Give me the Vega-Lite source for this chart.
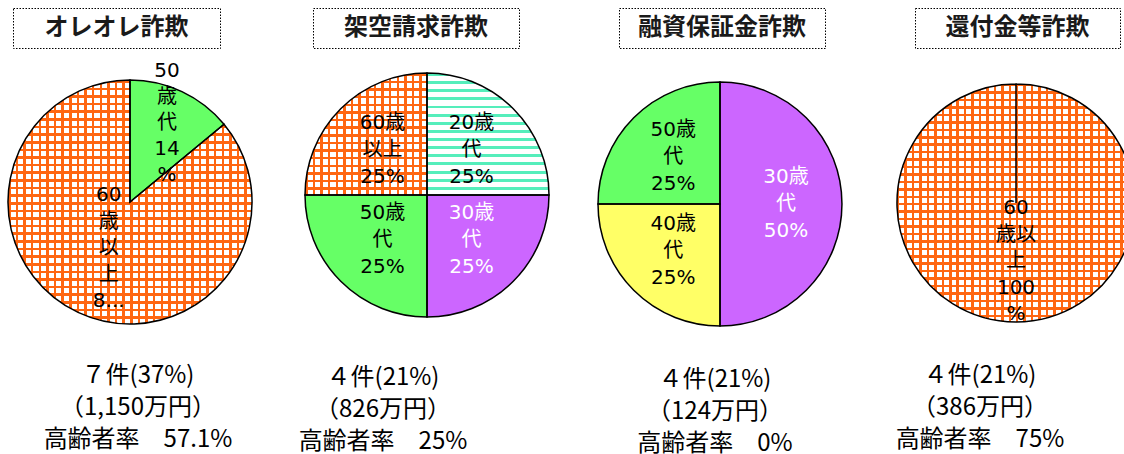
{
"$schema": "https://vega.github.io/schema/vega-lite/v6.json",
"background": "white",
"padding": {"left": 5, "top": 7, "right": 0, "bottom": 0},
"spacing": 12,
"config": {"view": {"stroke": null}},
"datasets": {
 "p1": [
  {"age": "50歳代", "pct": 14, "label": "50\n歳\n代\n14\n%"},
  {"age": "60歳以上", "pct": 86, "label": "60\n歳\n以\n上\n8..."}
 ],
 "p2": [
  {"age": "20歳代", "pct": 25, "label": "20歳\n代\n25%"},
  {"age": "30歳代", "pct": 25, "label": "30歳\n代\n25%"},
  {"age": "50歳代", "pct": 25, "label": "50歳\n代\n25%"},
  {"age": "60歳以上", "pct": 25, "label": "60歳\n以上\n25%"}
 ],
 "p3": [
  {"age": "30歳代", "pct": 50, "label": "30歳\n代\n50%"},
  {"age": "40歳代", "pct": 25, "label": "40歳\n代\n25%"},
  {"age": "50歳代", "pct": 25, "label": "50歳\n代\n25%"}
 ],
 "p4": [
  {"age": "60歳以上", "pct": 100, "label": "60\n歳以\n上\n100\n%"}
 ]
},
"vconcat": [
 {
  "bounds": "flush",
  "spacing": 0,
  "hconcat": [
   {"width": 5, "height": 40, "data": {"values": [{}]}, "mark": {"type": "text", "text": ""}},
   {"width": 207, "height": 40, "data": {"values": [{"title": "オレオレ詐欺"}]},
    "view": {"stroke": "#000", "strokeWidth": 1, "strokeDash": [1.5, 1.5]},
    "mark": {"type": "text", "font": "Noto Sans CJK JP", "fontSize": 24, "fontWeight": "bold", "color": "#1a1a1a"},
    "encoding": {"text": {"field": "title"}}},
   {"width": 93, "height": 40, "data": {"values": [{}]}, "mark": {"type": "text", "text": ""}},
   {"width": 206, "height": 40, "data": {"values": [{"title": "架空請求詐欺"}]},
    "view": {"stroke": "#000", "strokeWidth": 1, "strokeDash": [1.5, 1.5]},
    "mark": {"type": "text", "font": "Noto Sans CJK JP", "fontSize": 24, "fontWeight": "bold", "color": "#1a1a1a"},
    "encoding": {"text": {"field": "title"}}},
   {"width": 100, "height": 40, "data": {"values": [{}]}, "mark": {"type": "text", "text": ""}},
   {"width": 206, "height": 40, "data": {"values": [{"title": "融資保証金詐欺"}]},
    "view": {"stroke": "#000", "strokeWidth": 1, "strokeDash": [1.5, 1.5]},
    "mark": {"type": "text", "font": "Noto Sans CJK JP", "fontSize": 24, "fontWeight": "bold", "color": "#1a1a1a"},
    "encoding": {"text": {"field": "title"}}},
   {"width": 90, "height": 40, "data": {"values": [{}]}, "mark": {"type": "text", "text": ""}},
   {"width": 205, "height": 40, "data": {"values": [{"title": "還付金等詐欺"}]},
    "view": {"stroke": "#000", "strokeWidth": 1, "strokeDash": [1.5, 1.5]},
    "mark": {"type": "text", "font": "Noto Sans CJK JP", "fontSize": 24, "fontWeight": "bold", "color": "#1a1a1a"},
    "encoding": {"text": {"field": "title"}}}
  ]
 },
 {
  "bounds": "flush",
  "spacing": 0,
  "hconcat": [
   {
    "width": 244, "height": 246,
    "data": {"name": "p1"},
    "encoding": {
     "theta": {"field": "pct", "type": "quantitative", "stack": true, "scale": {"range": [0, 6.283]}},
     "order": {"field": "age", "type": "ordinal"},
     "detail": {"field": "age", "type": "nominal"}
    },
    "layer": [
     {"mark": {"type": "arc", "outerRadius": 122},
      "encoding": {"color": {"field": "age", "type": "nominal", "legend": null,
       "scale": {"domain": ["20歳代", "30歳代", "40歳代", "50歳代", "60歳以上"], "range": ["#ffffff", "#cc66ff", "#ffff66", "#66ff66", "#ffffff"]}}}},
     {"mark": {"type": "arc", "outerRadius": 122, "fill": {"gradient": "linear", "x1": 0, "y1": 0, "x2": 1, "y2": 0, "stops": [
{"offset":0,"color":"#f61"},{"offset":0.0103,"color":"#f61"},{"offset":0.0103,"color":"#fff0"},{"offset":0.03125,"color":"#fff0"},
{"offset":0.03125,"color":"#f61"},{"offset":0.04155,"color":"#f61"},{"offset":0.04155,"color":"#fff0"},{"offset":0.0625,"color":"#fff0"},
{"offset":0.0625,"color":"#f61"},{"offset":0.0728,"color":"#f61"},{"offset":0.0728,"color":"#fff0"},{"offset":0.09375,"color":"#fff0"},
{"offset":0.09375,"color":"#f61"},{"offset":0.10405,"color":"#f61"},{"offset":0.10405,"color":"#fff0"},{"offset":0.125,"color":"#fff0"},
{"offset":0.125,"color":"#f61"},{"offset":0.1353,"color":"#f61"},{"offset":0.1353,"color":"#fff0"},{"offset":0.15625,"color":"#fff0"},
{"offset":0.15625,"color":"#f61"},{"offset":0.16655,"color":"#f61"},{"offset":0.16655,"color":"#fff0"},{"offset":0.1875,"color":"#fff0"},
{"offset":0.1875,"color":"#f61"},{"offset":0.1978,"color":"#f61"},{"offset":0.1978,"color":"#fff0"},{"offset":0.21875,"color":"#fff0"},
{"offset":0.21875,"color":"#f61"},{"offset":0.22905,"color":"#f61"},{"offset":0.22905,"color":"#fff0"},{"offset":0.25,"color":"#fff0"},
{"offset":0.25,"color":"#f61"},{"offset":0.2603,"color":"#f61"},{"offset":0.2603,"color":"#fff0"},{"offset":0.28125,"color":"#fff0"},
{"offset":0.28125,"color":"#f61"},{"offset":0.29155,"color":"#f61"},{"offset":0.29155,"color":"#fff0"},{"offset":0.3125,"color":"#fff0"},
{"offset":0.3125,"color":"#f61"},{"offset":0.3228,"color":"#f61"},{"offset":0.3228,"color":"#fff0"},{"offset":0.34375,"color":"#fff0"},
{"offset":0.34375,"color":"#f61"},{"offset":0.35405,"color":"#f61"},{"offset":0.35405,"color":"#fff0"},{"offset":0.375,"color":"#fff0"},
{"offset":0.375,"color":"#f61"},{"offset":0.3853,"color":"#f61"},{"offset":0.3853,"color":"#fff0"},{"offset":0.40625,"color":"#fff0"},
{"offset":0.40625,"color":"#f61"},{"offset":0.41655,"color":"#f61"},{"offset":0.41655,"color":"#fff0"},{"offset":0.4375,"color":"#fff0"},
{"offset":0.4375,"color":"#f61"},{"offset":0.4478,"color":"#f61"},{"offset":0.4478,"color":"#fff0"},{"offset":0.46875,"color":"#fff0"},
{"offset":0.46875,"color":"#f61"},{"offset":0.47905,"color":"#f61"},{"offset":0.47905,"color":"#fff0"},{"offset":0.5,"color":"#fff0"},
{"offset":0.5,"color":"#f61"},{"offset":0.5103,"color":"#f61"},{"offset":0.5103,"color":"#fff0"},{"offset":0.53125,"color":"#fff0"},
{"offset":0.53125,"color":"#f61"},{"offset":0.54155,"color":"#f61"},{"offset":0.54155,"color":"#fff0"},{"offset":0.5625,"color":"#fff0"},
{"offset":0.5625,"color":"#f61"},{"offset":0.5728,"color":"#f61"},{"offset":0.5728,"color":"#fff0"},{"offset":0.59375,"color":"#fff0"},
{"offset":0.59375,"color":"#f61"},{"offset":0.60405,"color":"#f61"},{"offset":0.60405,"color":"#fff0"},{"offset":0.625,"color":"#fff0"},
{"offset":0.625,"color":"#f61"},{"offset":0.6353,"color":"#f61"},{"offset":0.6353,"color":"#fff0"},{"offset":0.65625,"color":"#fff0"},
{"offset":0.65625,"color":"#f61"},{"offset":0.66655,"color":"#f61"},{"offset":0.66655,"color":"#fff0"},{"offset":0.6875,"color":"#fff0"},
{"offset":0.6875,"color":"#f61"},{"offset":0.6978,"color":"#f61"},{"offset":0.6978,"color":"#fff0"},{"offset":0.71875,"color":"#fff0"},
{"offset":0.71875,"color":"#f61"},{"offset":0.72905,"color":"#f61"},{"offset":0.72905,"color":"#fff0"},{"offset":0.75,"color":"#fff0"},
{"offset":0.75,"color":"#f61"},{"offset":0.7603,"color":"#f61"},{"offset":0.7603,"color":"#fff0"},{"offset":0.78125,"color":"#fff0"},
{"offset":0.78125,"color":"#f61"},{"offset":0.79155,"color":"#f61"},{"offset":0.79155,"color":"#fff0"},{"offset":0.8125,"color":"#fff0"},
{"offset":0.8125,"color":"#f61"},{"offset":0.8228,"color":"#f61"},{"offset":0.8228,"color":"#fff0"},{"offset":0.84375,"color":"#fff0"},
{"offset":0.84375,"color":"#f61"},{"offset":0.85405,"color":"#f61"},{"offset":0.85405,"color":"#fff0"},{"offset":0.875,"color":"#fff0"},
{"offset":0.875,"color":"#f61"},{"offset":0.8853,"color":"#f61"},{"offset":0.8853,"color":"#fff0"},{"offset":0.90625,"color":"#fff0"},
{"offset":0.90625,"color":"#f61"},{"offset":0.91655,"color":"#f61"},{"offset":0.91655,"color":"#fff0"},{"offset":0.9375,"color":"#fff0"},
{"offset":0.9375,"color":"#f61"},{"offset":0.9478,"color":"#f61"},{"offset":0.9478,"color":"#fff0"},{"offset":0.96875,"color":"#fff0"},
{"offset":0.96875,"color":"#f61"},{"offset":0.97905,"color":"#f61"},{"offset":0.97905,"color":"#fff0"},{"offset":1,"color":"#fff0"}
      ]}},
      "encoding": {"fillOpacity": {"condition": {"test": "datum.age === '60歳以上'", "value": 1}, "value": 0}}},
     {"mark": {"type": "arc", "outerRadius": 122, "fill": {"gradient": "linear", "x1": 0, "y1": 0, "x2": 0, "y2": 1, "stops": [
{"offset":0,"color":"#f61"},{"offset":0.0103,"color":"#f61"},{"offset":0.0103,"color":"#fff0"},{"offset":0.03125,"color":"#fff0"},
{"offset":0.03125,"color":"#f61"},{"offset":0.04155,"color":"#f61"},{"offset":0.04155,"color":"#fff0"},{"offset":0.0625,"color":"#fff0"},
{"offset":0.0625,"color":"#f61"},{"offset":0.0728,"color":"#f61"},{"offset":0.0728,"color":"#fff0"},{"offset":0.09375,"color":"#fff0"},
{"offset":0.09375,"color":"#f61"},{"offset":0.10405,"color":"#f61"},{"offset":0.10405,"color":"#fff0"},{"offset":0.125,"color":"#fff0"},
{"offset":0.125,"color":"#f61"},{"offset":0.1353,"color":"#f61"},{"offset":0.1353,"color":"#fff0"},{"offset":0.15625,"color":"#fff0"},
{"offset":0.15625,"color":"#f61"},{"offset":0.16655,"color":"#f61"},{"offset":0.16655,"color":"#fff0"},{"offset":0.1875,"color":"#fff0"},
{"offset":0.1875,"color":"#f61"},{"offset":0.1978,"color":"#f61"},{"offset":0.1978,"color":"#fff0"},{"offset":0.21875,"color":"#fff0"},
{"offset":0.21875,"color":"#f61"},{"offset":0.22905,"color":"#f61"},{"offset":0.22905,"color":"#fff0"},{"offset":0.25,"color":"#fff0"},
{"offset":0.25,"color":"#f61"},{"offset":0.2603,"color":"#f61"},{"offset":0.2603,"color":"#fff0"},{"offset":0.28125,"color":"#fff0"},
{"offset":0.28125,"color":"#f61"},{"offset":0.29155,"color":"#f61"},{"offset":0.29155,"color":"#fff0"},{"offset":0.3125,"color":"#fff0"},
{"offset":0.3125,"color":"#f61"},{"offset":0.3228,"color":"#f61"},{"offset":0.3228,"color":"#fff0"},{"offset":0.34375,"color":"#fff0"},
{"offset":0.34375,"color":"#f61"},{"offset":0.35405,"color":"#f61"},{"offset":0.35405,"color":"#fff0"},{"offset":0.375,"color":"#fff0"},
{"offset":0.375,"color":"#f61"},{"offset":0.3853,"color":"#f61"},{"offset":0.3853,"color":"#fff0"},{"offset":0.40625,"color":"#fff0"},
{"offset":0.40625,"color":"#f61"},{"offset":0.41655,"color":"#f61"},{"offset":0.41655,"color":"#fff0"},{"offset":0.4375,"color":"#fff0"},
{"offset":0.4375,"color":"#f61"},{"offset":0.4478,"color":"#f61"},{"offset":0.4478,"color":"#fff0"},{"offset":0.46875,"color":"#fff0"},
{"offset":0.46875,"color":"#f61"},{"offset":0.47905,"color":"#f61"},{"offset":0.47905,"color":"#fff0"},{"offset":0.5,"color":"#fff0"},
{"offset":0.5,"color":"#f61"},{"offset":0.5103,"color":"#f61"},{"offset":0.5103,"color":"#fff0"},{"offset":0.53125,"color":"#fff0"},
{"offset":0.53125,"color":"#f61"},{"offset":0.54155,"color":"#f61"},{"offset":0.54155,"color":"#fff0"},{"offset":0.5625,"color":"#fff0"},
{"offset":0.5625,"color":"#f61"},{"offset":0.5728,"color":"#f61"},{"offset":0.5728,"color":"#fff0"},{"offset":0.59375,"color":"#fff0"},
{"offset":0.59375,"color":"#f61"},{"offset":0.60405,"color":"#f61"},{"offset":0.60405,"color":"#fff0"},{"offset":0.625,"color":"#fff0"},
{"offset":0.625,"color":"#f61"},{"offset":0.6353,"color":"#f61"},{"offset":0.6353,"color":"#fff0"},{"offset":0.65625,"color":"#fff0"},
{"offset":0.65625,"color":"#f61"},{"offset":0.66655,"color":"#f61"},{"offset":0.66655,"color":"#fff0"},{"offset":0.6875,"color":"#fff0"},
{"offset":0.6875,"color":"#f61"},{"offset":0.6978,"color":"#f61"},{"offset":0.6978,"color":"#fff0"},{"offset":0.71875,"color":"#fff0"},
{"offset":0.71875,"color":"#f61"},{"offset":0.72905,"color":"#f61"},{"offset":0.72905,"color":"#fff0"},{"offset":0.75,"color":"#fff0"},
{"offset":0.75,"color":"#f61"},{"offset":0.7603,"color":"#f61"},{"offset":0.7603,"color":"#fff0"},{"offset":0.78125,"color":"#fff0"},
{"offset":0.78125,"color":"#f61"},{"offset":0.79155,"color":"#f61"},{"offset":0.79155,"color":"#fff0"},{"offset":0.8125,"color":"#fff0"},
{"offset":0.8125,"color":"#f61"},{"offset":0.8228,"color":"#f61"},{"offset":0.8228,"color":"#fff0"},{"offset":0.84375,"color":"#fff0"},
{"offset":0.84375,"color":"#f61"},{"offset":0.85405,"color":"#f61"},{"offset":0.85405,"color":"#fff0"},{"offset":0.875,"color":"#fff0"},
{"offset":0.875,"color":"#f61"},{"offset":0.8853,"color":"#f61"},{"offset":0.8853,"color":"#fff0"},{"offset":0.90625,"color":"#fff0"},
{"offset":0.90625,"color":"#f61"},{"offset":0.91655,"color":"#f61"},{"offset":0.91655,"color":"#fff0"},{"offset":0.9375,"color":"#fff0"},
{"offset":0.9375,"color":"#f61"},{"offset":0.9478,"color":"#f61"},{"offset":0.9478,"color":"#fff0"},{"offset":0.96875,"color":"#fff0"},
{"offset":0.96875,"color":"#f61"},{"offset":0.97905,"color":"#f61"},{"offset":0.97905,"color":"#fff0"},{"offset":1,"color":"#fff0"}
      ]}},
      "encoding": {"fillOpacity": {"condition": {"test": "datum.age === '60歳以上'", "value": 1}, "value": 0}}},
     {"mark": {"type": "arc", "outerRadius": 122, "filled": false, "stroke": "#000", "strokeWidth": 1.5}},
     {"mark": {"type": "text", "radius": 87, "dy": -52, "font": "DejaVu Sans, Noto Sans CJK JP", "fontSize": 20, "lineBreak": "\n", "lineHeight": 26},
      "encoding": {"text": {"field": "label"}, "color": {"value": "#000"},
       "opacity": {"condition": {"test": "datum.age === '50歳代'", "value": 1}, "value": 0}}},
     {"mark": {"type": "text", "radius": 50, "dy": -52, "font": "DejaVu Sans, Noto Sans CJK JP", "fontSize": 20, "lineBreak": "\n", "lineHeight": 26.5},
      "encoding": {"text": {"field": "label"}, "color": {"value": "#000"},
       "opacity": {"condition": {"test": "datum.age === '60歳以上'", "value": 1}, "value": 0}}}
    ]
   },
   {
    "width": 350, "height": 232,
    "data": {"name": "p2"},
    "encoding": {
     "theta": {"field": "pct", "type": "quantitative", "stack": true, "scale": {"range": [0, 6.283]}},
     "order": {"field": "age", "type": "ordinal"},
     "detail": {"field": "age", "type": "nominal"}
    },
    "layer": [
     {"mark": {"type": "arc", "outerRadius": 122},
      "encoding": {"color": {"field": "age", "type": "nominal", "legend": null,
       "scale": {"domain": ["20歳代", "30歳代", "40歳代", "50歳代", "60歳以上"], "range": ["#ffffff", "#cc66ff", "#ffff66", "#66ff66", "#ffffff"]}}}},
     {"mark": {"type": "arc", "outerRadius": 122, "fill": {"gradient": "linear", "x1": 0, "y1": 0, "x2": 0, "y2": 1, "stops": [
{"offset":0,"color":"#5eb"},{"offset":0.024,"color":"#5eb"},{"offset":0.024,"color":"#fff0"},{"offset":0.0667,"color":"#fff0"},
{"offset":0.0667,"color":"#5eb"},{"offset":0.0907,"color":"#5eb"},{"offset":0.0907,"color":"#fff0"},{"offset":0.1333,"color":"#fff0"},
{"offset":0.1333,"color":"#5eb"},{"offset":0.1573,"color":"#5eb"},{"offset":0.1573,"color":"#fff0"},{"offset":0.2,"color":"#fff0"},
{"offset":0.2,"color":"#5eb"},{"offset":0.224,"color":"#5eb"},{"offset":0.224,"color":"#fff0"},{"offset":0.2667,"color":"#fff0"},
{"offset":0.2667,"color":"#5eb"},{"offset":0.2907,"color":"#5eb"},{"offset":0.2907,"color":"#fff0"},{"offset":0.3333,"color":"#fff0"},
{"offset":0.3333,"color":"#5eb"},{"offset":0.3573,"color":"#5eb"},{"offset":0.3573,"color":"#fff0"},{"offset":0.4,"color":"#fff0"},
{"offset":0.4,"color":"#5eb"},{"offset":0.424,"color":"#5eb"},{"offset":0.424,"color":"#fff0"},{"offset":0.4667,"color":"#fff0"},
{"offset":0.4667,"color":"#5eb"},{"offset":0.4907,"color":"#5eb"},{"offset":0.4907,"color":"#fff0"},{"offset":0.5333,"color":"#fff0"},
{"offset":0.5333,"color":"#5eb"},{"offset":0.5573,"color":"#5eb"},{"offset":0.5573,"color":"#fff0"},{"offset":0.6,"color":"#fff0"},
{"offset":0.6,"color":"#5eb"},{"offset":0.624,"color":"#5eb"},{"offset":0.624,"color":"#fff0"},{"offset":0.6667,"color":"#fff0"},
{"offset":0.6667,"color":"#5eb"},{"offset":0.6907,"color":"#5eb"},{"offset":0.6907,"color":"#fff0"},{"offset":0.7333,"color":"#fff0"},
{"offset":0.7333,"color":"#5eb"},{"offset":0.7573,"color":"#5eb"},{"offset":0.7573,"color":"#fff0"},{"offset":0.8,"color":"#fff0"},
{"offset":0.8,"color":"#5eb"},{"offset":0.824,"color":"#5eb"},{"offset":0.824,"color":"#fff0"},{"offset":0.8667,"color":"#fff0"},
{"offset":0.8667,"color":"#5eb"},{"offset":0.8907,"color":"#5eb"},{"offset":0.8907,"color":"#fff0"},{"offset":0.9333,"color":"#fff0"},
{"offset":0.9333,"color":"#5eb"},{"offset":0.9573,"color":"#5eb"},{"offset":0.9573,"color":"#fff0"},{"offset":1,"color":"#fff0"}
      ]}},
      "encoding": {"fillOpacity": {"condition": {"test": "datum.age === '20歳代'", "value": 1}, "value": 0}}},
     {"mark": {"type": "arc", "outerRadius": 122, "fill": {"gradient": "linear", "x1": 0, "y1": 0, "x2": 1, "y2": 0, "stops": [
{"offset":0,"color":"#f61"},{"offset":0.0206,"color":"#f61"},{"offset":0.0206,"color":"#fff0"},{"offset":0.0625,"color":"#fff0"},
{"offset":0.0625,"color":"#f61"},{"offset":0.0831,"color":"#f61"},{"offset":0.0831,"color":"#fff0"},{"offset":0.125,"color":"#fff0"},
{"offset":0.125,"color":"#f61"},{"offset":0.1456,"color":"#f61"},{"offset":0.1456,"color":"#fff0"},{"offset":0.1875,"color":"#fff0"},
{"offset":0.1875,"color":"#f61"},{"offset":0.2081,"color":"#f61"},{"offset":0.2081,"color":"#fff0"},{"offset":0.25,"color":"#fff0"},
{"offset":0.25,"color":"#f61"},{"offset":0.2706,"color":"#f61"},{"offset":0.2706,"color":"#fff0"},{"offset":0.3125,"color":"#fff0"},
{"offset":0.3125,"color":"#f61"},{"offset":0.3331,"color":"#f61"},{"offset":0.3331,"color":"#fff0"},{"offset":0.375,"color":"#fff0"},
{"offset":0.375,"color":"#f61"},{"offset":0.3956,"color":"#f61"},{"offset":0.3956,"color":"#fff0"},{"offset":0.4375,"color":"#fff0"},
{"offset":0.4375,"color":"#f61"},{"offset":0.4581,"color":"#f61"},{"offset":0.4581,"color":"#fff0"},{"offset":0.5,"color":"#fff0"},
{"offset":0.5,"color":"#f61"},{"offset":0.5206,"color":"#f61"},{"offset":0.5206,"color":"#fff0"},{"offset":0.5625,"color":"#fff0"},
{"offset":0.5625,"color":"#f61"},{"offset":0.5831,"color":"#f61"},{"offset":0.5831,"color":"#fff0"},{"offset":0.625,"color":"#fff0"},
{"offset":0.625,"color":"#f61"},{"offset":0.6456,"color":"#f61"},{"offset":0.6456,"color":"#fff0"},{"offset":0.6875,"color":"#fff0"},
{"offset":0.6875,"color":"#f61"},{"offset":0.7081,"color":"#f61"},{"offset":0.7081,"color":"#fff0"},{"offset":0.75,"color":"#fff0"},
{"offset":0.75,"color":"#f61"},{"offset":0.7706,"color":"#f61"},{"offset":0.7706,"color":"#fff0"},{"offset":0.8125,"color":"#fff0"},
{"offset":0.8125,"color":"#f61"},{"offset":0.8331,"color":"#f61"},{"offset":0.8331,"color":"#fff0"},{"offset":0.875,"color":"#fff0"},
{"offset":0.875,"color":"#f61"},{"offset":0.8956,"color":"#f61"},{"offset":0.8956,"color":"#fff0"},{"offset":0.9375,"color":"#fff0"},
{"offset":0.9375,"color":"#f61"},{"offset":0.9581,"color":"#f61"},{"offset":0.9581,"color":"#fff0"},{"offset":1,"color":"#fff0"}
      ]}},
      "encoding": {"fillOpacity": {"condition": {"test": "datum.age === '60歳以上'", "value": 1}, "value": 0}}},
     {"mark": {"type": "arc", "outerRadius": 122, "fill": {"gradient": "linear", "x1": 0, "y1": 0, "x2": 0, "y2": 1, "stops": [
{"offset":0,"color":"#f61"},{"offset":0.0206,"color":"#f61"},{"offset":0.0206,"color":"#fff0"},{"offset":0.0625,"color":"#fff0"},
{"offset":0.0625,"color":"#f61"},{"offset":0.0831,"color":"#f61"},{"offset":0.0831,"color":"#fff0"},{"offset":0.125,"color":"#fff0"},
{"offset":0.125,"color":"#f61"},{"offset":0.1456,"color":"#f61"},{"offset":0.1456,"color":"#fff0"},{"offset":0.1875,"color":"#fff0"},
{"offset":0.1875,"color":"#f61"},{"offset":0.2081,"color":"#f61"},{"offset":0.2081,"color":"#fff0"},{"offset":0.25,"color":"#fff0"},
{"offset":0.25,"color":"#f61"},{"offset":0.2706,"color":"#f61"},{"offset":0.2706,"color":"#fff0"},{"offset":0.3125,"color":"#fff0"},
{"offset":0.3125,"color":"#f61"},{"offset":0.3331,"color":"#f61"},{"offset":0.3331,"color":"#fff0"},{"offset":0.375,"color":"#fff0"},
{"offset":0.375,"color":"#f61"},{"offset":0.3956,"color":"#f61"},{"offset":0.3956,"color":"#fff0"},{"offset":0.4375,"color":"#fff0"},
{"offset":0.4375,"color":"#f61"},{"offset":0.4581,"color":"#f61"},{"offset":0.4581,"color":"#fff0"},{"offset":0.5,"color":"#fff0"},
{"offset":0.5,"color":"#f61"},{"offset":0.5206,"color":"#f61"},{"offset":0.5206,"color":"#fff0"},{"offset":0.5625,"color":"#fff0"},
{"offset":0.5625,"color":"#f61"},{"offset":0.5831,"color":"#f61"},{"offset":0.5831,"color":"#fff0"},{"offset":0.625,"color":"#fff0"},
{"offset":0.625,"color":"#f61"},{"offset":0.6456,"color":"#f61"},{"offset":0.6456,"color":"#fff0"},{"offset":0.6875,"color":"#fff0"},
{"offset":0.6875,"color":"#f61"},{"offset":0.7081,"color":"#f61"},{"offset":0.7081,"color":"#fff0"},{"offset":0.75,"color":"#fff0"},
{"offset":0.75,"color":"#f61"},{"offset":0.7706,"color":"#f61"},{"offset":0.7706,"color":"#fff0"},{"offset":0.8125,"color":"#fff0"},
{"offset":0.8125,"color":"#f61"},{"offset":0.8331,"color":"#f61"},{"offset":0.8331,"color":"#fff0"},{"offset":0.875,"color":"#fff0"},
{"offset":0.875,"color":"#f61"},{"offset":0.8956,"color":"#f61"},{"offset":0.8956,"color":"#fff0"},{"offset":0.9375,"color":"#fff0"},
{"offset":0.9375,"color":"#f61"},{"offset":0.9581,"color":"#f61"},{"offset":0.9581,"color":"#fff0"},{"offset":1,"color":"#fff0"}
      ]}},
      "encoding": {"fillOpacity": {"condition": {"test": "datum.age === '60歳以上'", "value": 1}, "value": 0}}},
     {"mark": {"type": "arc", "outerRadius": 122, "filled": false, "stroke": "#000", "strokeWidth": 1.5}},
     {"mark": {"type": "text", "radius": 63, "dy": -27, "font": "DejaVu Sans, Noto Sans CJK JP", "fontSize": 20, "lineBreak": "\n", "lineHeight": 27},
      "encoding": {"text": {"field": "label"},
       "color": {"condition": {"test": "datum.age === '30歳代'", "value": "#ffffff"}, "value": "#000000"}}}
    ]
   },
   {
    "width": 236, "height": 250,
    "data": {"name": "p3"},
    "encoding": {
     "theta": {"field": "pct", "type": "quantitative", "stack": true, "scale": {"range": [0, 6.283]}},
     "order": {"field": "age", "type": "ordinal"},
     "detail": {"field": "age", "type": "nominal"}
    },
    "layer": [
     {"mark": {"type": "arc", "outerRadius": 122},
      "encoding": {"color": {"field": "age", "type": "nominal", "legend": null,
       "scale": {"domain": ["20歳代", "30歳代", "40歳代", "50歳代", "60歳以上"], "range": ["#ffffff", "#cc66ff", "#ffff66", "#66ff66", "#ffffff"]}}}},
     {"mark": {"type": "arc", "outerRadius": 122, "filled": false, "stroke": "#000", "strokeWidth": 1.5}},
     {"mark": {"type": "text", "radius": 66, "dy": -27, "font": "DejaVu Sans, Noto Sans CJK JP", "fontSize": 20, "lineBreak": "\n", "lineHeight": 27},
      "encoding": {"text": {"field": "label"},
       "color": {"condition": {"test": "datum.age === '30歳代'", "value": "#ffffff"}, "value": "#000000"}}}
    ]
   },
   {
    "width": 356, "height": 248,
    "data": {"name": "p4"},
    "encoding": {
     "theta": {"field": "pct", "type": "quantitative", "stack": true, "scale": {"range": [0, 6.283]}},
     "order": {"field": "age", "type": "ordinal"},
     "detail": {"field": "age", "type": "nominal"}
    },
    "layer": [
     {"mark": {"type": "arc", "outerRadius": 119},
      "encoding": {"color": {"field": "age", "type": "nominal", "legend": null,
       "scale": {"domain": ["20歳代", "30歳代", "40歳代", "50歳代", "60歳以上"], "range": ["#ffffff", "#cc66ff", "#ffff66", "#66ff66", "#ffffff"]}}}},
     {"mark": {"type": "arc", "outerRadius": 119, "fill": {"gradient": "linear", "x1": 0, "y1": 0, "x2": 1, "y2": 0, "stops": [
{"offset":0,"color":"#f61"},{"offset":0.0103,"color":"#f61"},{"offset":0.0103,"color":"#fff0"},{"offset":0.03125,"color":"#fff0"},
{"offset":0.03125,"color":"#f61"},{"offset":0.04155,"color":"#f61"},{"offset":0.04155,"color":"#fff0"},{"offset":0.0625,"color":"#fff0"},
{"offset":0.0625,"color":"#f61"},{"offset":0.0728,"color":"#f61"},{"offset":0.0728,"color":"#fff0"},{"offset":0.09375,"color":"#fff0"},
{"offset":0.09375,"color":"#f61"},{"offset":0.10405,"color":"#f61"},{"offset":0.10405,"color":"#fff0"},{"offset":0.125,"color":"#fff0"},
{"offset":0.125,"color":"#f61"},{"offset":0.1353,"color":"#f61"},{"offset":0.1353,"color":"#fff0"},{"offset":0.15625,"color":"#fff0"},
{"offset":0.15625,"color":"#f61"},{"offset":0.16655,"color":"#f61"},{"offset":0.16655,"color":"#fff0"},{"offset":0.1875,"color":"#fff0"},
{"offset":0.1875,"color":"#f61"},{"offset":0.1978,"color":"#f61"},{"offset":0.1978,"color":"#fff0"},{"offset":0.21875,"color":"#fff0"},
{"offset":0.21875,"color":"#f61"},{"offset":0.22905,"color":"#f61"},{"offset":0.22905,"color":"#fff0"},{"offset":0.25,"color":"#fff0"},
{"offset":0.25,"color":"#f61"},{"offset":0.2603,"color":"#f61"},{"offset":0.2603,"color":"#fff0"},{"offset":0.28125,"color":"#fff0"},
{"offset":0.28125,"color":"#f61"},{"offset":0.29155,"color":"#f61"},{"offset":0.29155,"color":"#fff0"},{"offset":0.3125,"color":"#fff0"},
{"offset":0.3125,"color":"#f61"},{"offset":0.3228,"color":"#f61"},{"offset":0.3228,"color":"#fff0"},{"offset":0.34375,"color":"#fff0"},
{"offset":0.34375,"color":"#f61"},{"offset":0.35405,"color":"#f61"},{"offset":0.35405,"color":"#fff0"},{"offset":0.375,"color":"#fff0"},
{"offset":0.375,"color":"#f61"},{"offset":0.3853,"color":"#f61"},{"offset":0.3853,"color":"#fff0"},{"offset":0.40625,"color":"#fff0"},
{"offset":0.40625,"color":"#f61"},{"offset":0.41655,"color":"#f61"},{"offset":0.41655,"color":"#fff0"},{"offset":0.4375,"color":"#fff0"},
{"offset":0.4375,"color":"#f61"},{"offset":0.4478,"color":"#f61"},{"offset":0.4478,"color":"#fff0"},{"offset":0.46875,"color":"#fff0"},
{"offset":0.46875,"color":"#f61"},{"offset":0.47905,"color":"#f61"},{"offset":0.47905,"color":"#fff0"},{"offset":0.5,"color":"#fff0"},
{"offset":0.5,"color":"#f61"},{"offset":0.5103,"color":"#f61"},{"offset":0.5103,"color":"#fff0"},{"offset":0.53125,"color":"#fff0"},
{"offset":0.53125,"color":"#f61"},{"offset":0.54155,"color":"#f61"},{"offset":0.54155,"color":"#fff0"},{"offset":0.5625,"color":"#fff0"},
{"offset":0.5625,"color":"#f61"},{"offset":0.5728,"color":"#f61"},{"offset":0.5728,"color":"#fff0"},{"offset":0.59375,"color":"#fff0"},
{"offset":0.59375,"color":"#f61"},{"offset":0.60405,"color":"#f61"},{"offset":0.60405,"color":"#fff0"},{"offset":0.625,"color":"#fff0"},
{"offset":0.625,"color":"#f61"},{"offset":0.6353,"color":"#f61"},{"offset":0.6353,"color":"#fff0"},{"offset":0.65625,"color":"#fff0"},
{"offset":0.65625,"color":"#f61"},{"offset":0.66655,"color":"#f61"},{"offset":0.66655,"color":"#fff0"},{"offset":0.6875,"color":"#fff0"},
{"offset":0.6875,"color":"#f61"},{"offset":0.6978,"color":"#f61"},{"offset":0.6978,"color":"#fff0"},{"offset":0.71875,"color":"#fff0"},
{"offset":0.71875,"color":"#f61"},{"offset":0.72905,"color":"#f61"},{"offset":0.72905,"color":"#fff0"},{"offset":0.75,"color":"#fff0"},
{"offset":0.75,"color":"#f61"},{"offset":0.7603,"color":"#f61"},{"offset":0.7603,"color":"#fff0"},{"offset":0.78125,"color":"#fff0"},
{"offset":0.78125,"color":"#f61"},{"offset":0.79155,"color":"#f61"},{"offset":0.79155,"color":"#fff0"},{"offset":0.8125,"color":"#fff0"},
{"offset":0.8125,"color":"#f61"},{"offset":0.8228,"color":"#f61"},{"offset":0.8228,"color":"#fff0"},{"offset":0.84375,"color":"#fff0"},
{"offset":0.84375,"color":"#f61"},{"offset":0.85405,"color":"#f61"},{"offset":0.85405,"color":"#fff0"},{"offset":0.875,"color":"#fff0"},
{"offset":0.875,"color":"#f61"},{"offset":0.8853,"color":"#f61"},{"offset":0.8853,"color":"#fff0"},{"offset":0.90625,"color":"#fff0"},
{"offset":0.90625,"color":"#f61"},{"offset":0.91655,"color":"#f61"},{"offset":0.91655,"color":"#fff0"},{"offset":0.9375,"color":"#fff0"},
{"offset":0.9375,"color":"#f61"},{"offset":0.9478,"color":"#f61"},{"offset":0.9478,"color":"#fff0"},{"offset":0.96875,"color":"#fff0"},
{"offset":0.96875,"color":"#f61"},{"offset":0.97905,"color":"#f61"},{"offset":0.97905,"color":"#fff0"},{"offset":1,"color":"#fff0"}
      ]}},
      "encoding": {"fillOpacity": {"condition": {"test": "datum.age === '60歳以上'", "value": 1}, "value": 0}}},
     {"mark": {"type": "arc", "outerRadius": 119, "fill": {"gradient": "linear", "x1": 0, "y1": 0, "x2": 0, "y2": 1, "stops": [
{"offset":0,"color":"#f61"},{"offset":0.0103,"color":"#f61"},{"offset":0.0103,"color":"#fff0"},{"offset":0.03125,"color":"#fff0"},
{"offset":0.03125,"color":"#f61"},{"offset":0.04155,"color":"#f61"},{"offset":0.04155,"color":"#fff0"},{"offset":0.0625,"color":"#fff0"},
{"offset":0.0625,"color":"#f61"},{"offset":0.0728,"color":"#f61"},{"offset":0.0728,"color":"#fff0"},{"offset":0.09375,"color":"#fff0"},
{"offset":0.09375,"color":"#f61"},{"offset":0.10405,"color":"#f61"},{"offset":0.10405,"color":"#fff0"},{"offset":0.125,"color":"#fff0"},
{"offset":0.125,"color":"#f61"},{"offset":0.1353,"color":"#f61"},{"offset":0.1353,"color":"#fff0"},{"offset":0.15625,"color":"#fff0"},
{"offset":0.15625,"color":"#f61"},{"offset":0.16655,"color":"#f61"},{"offset":0.16655,"color":"#fff0"},{"offset":0.1875,"color":"#fff0"},
{"offset":0.1875,"color":"#f61"},{"offset":0.1978,"color":"#f61"},{"offset":0.1978,"color":"#fff0"},{"offset":0.21875,"color":"#fff0"},
{"offset":0.21875,"color":"#f61"},{"offset":0.22905,"color":"#f61"},{"offset":0.22905,"color":"#fff0"},{"offset":0.25,"color":"#fff0"},
{"offset":0.25,"color":"#f61"},{"offset":0.2603,"color":"#f61"},{"offset":0.2603,"color":"#fff0"},{"offset":0.28125,"color":"#fff0"},
{"offset":0.28125,"color":"#f61"},{"offset":0.29155,"color":"#f61"},{"offset":0.29155,"color":"#fff0"},{"offset":0.3125,"color":"#fff0"},
{"offset":0.3125,"color":"#f61"},{"offset":0.3228,"color":"#f61"},{"offset":0.3228,"color":"#fff0"},{"offset":0.34375,"color":"#fff0"},
{"offset":0.34375,"color":"#f61"},{"offset":0.35405,"color":"#f61"},{"offset":0.35405,"color":"#fff0"},{"offset":0.375,"color":"#fff0"},
{"offset":0.375,"color":"#f61"},{"offset":0.3853,"color":"#f61"},{"offset":0.3853,"color":"#fff0"},{"offset":0.40625,"color":"#fff0"},
{"offset":0.40625,"color":"#f61"},{"offset":0.41655,"color":"#f61"},{"offset":0.41655,"color":"#fff0"},{"offset":0.4375,"color":"#fff0"},
{"offset":0.4375,"color":"#f61"},{"offset":0.4478,"color":"#f61"},{"offset":0.4478,"color":"#fff0"},{"offset":0.46875,"color":"#fff0"},
{"offset":0.46875,"color":"#f61"},{"offset":0.47905,"color":"#f61"},{"offset":0.47905,"color":"#fff0"},{"offset":0.5,"color":"#fff0"},
{"offset":0.5,"color":"#f61"},{"offset":0.5103,"color":"#f61"},{"offset":0.5103,"color":"#fff0"},{"offset":0.53125,"color":"#fff0"},
{"offset":0.53125,"color":"#f61"},{"offset":0.54155,"color":"#f61"},{"offset":0.54155,"color":"#fff0"},{"offset":0.5625,"color":"#fff0"},
{"offset":0.5625,"color":"#f61"},{"offset":0.5728,"color":"#f61"},{"offset":0.5728,"color":"#fff0"},{"offset":0.59375,"color":"#fff0"},
{"offset":0.59375,"color":"#f61"},{"offset":0.60405,"color":"#f61"},{"offset":0.60405,"color":"#fff0"},{"offset":0.625,"color":"#fff0"},
{"offset":0.625,"color":"#f61"},{"offset":0.6353,"color":"#f61"},{"offset":0.6353,"color":"#fff0"},{"offset":0.65625,"color":"#fff0"},
{"offset":0.65625,"color":"#f61"},{"offset":0.66655,"color":"#f61"},{"offset":0.66655,"color":"#fff0"},{"offset":0.6875,"color":"#fff0"},
{"offset":0.6875,"color":"#f61"},{"offset":0.6978,"color":"#f61"},{"offset":0.6978,"color":"#fff0"},{"offset":0.71875,"color":"#fff0"},
{"offset":0.71875,"color":"#f61"},{"offset":0.72905,"color":"#f61"},{"offset":0.72905,"color":"#fff0"},{"offset":0.75,"color":"#fff0"},
{"offset":0.75,"color":"#f61"},{"offset":0.7603,"color":"#f61"},{"offset":0.7603,"color":"#fff0"},{"offset":0.78125,"color":"#fff0"},
{"offset":0.78125,"color":"#f61"},{"offset":0.79155,"color":"#f61"},{"offset":0.79155,"color":"#fff0"},{"offset":0.8125,"color":"#fff0"},
{"offset":0.8125,"color":"#f61"},{"offset":0.8228,"color":"#f61"},{"offset":0.8228,"color":"#fff0"},{"offset":0.84375,"color":"#fff0"},
{"offset":0.84375,"color":"#f61"},{"offset":0.85405,"color":"#f61"},{"offset":0.85405,"color":"#fff0"},{"offset":0.875,"color":"#fff0"},
{"offset":0.875,"color":"#f61"},{"offset":0.8853,"color":"#f61"},{"offset":0.8853,"color":"#fff0"},{"offset":0.90625,"color":"#fff0"},
{"offset":0.90625,"color":"#f61"},{"offset":0.91655,"color":"#f61"},{"offset":0.91655,"color":"#fff0"},{"offset":0.9375,"color":"#fff0"},
{"offset":0.9375,"color":"#f61"},{"offset":0.9478,"color":"#f61"},{"offset":0.9478,"color":"#fff0"},{"offset":0.96875,"color":"#fff0"},
{"offset":0.96875,"color":"#f61"},{"offset":0.97905,"color":"#f61"},{"offset":0.97905,"color":"#fff0"},{"offset":1,"color":"#fff0"}
      ]}},
      "encoding": {"fillOpacity": {"condition": {"test": "datum.age === '60歳以上'", "value": 1}, "value": 0}}},
     {"mark": {"type": "arc", "outerRadius": 119, "filled": false, "stroke": "#000", "strokeWidth": 1.5}},
     {"mark": {"type": "text", "radius": 57, "dy": -52, "font": "DejaVu Sans, Noto Sans CJK JP", "fontSize": 20, "lineBreak": "\n", "lineHeight": 26.5},
      "encoding": {"text": {"field": "label"}, "color": {"value": "#000"}}}
    ]
   }
  ]
 },
 {
  "bounds": "flush",
  "spacing": 0,
  "hconcat": [
   {"width": 260, "height": 18, "data": {"values": [{"summary": "７件(37%)\n（1,150万円）\n高齢者率　57.1%"}]},
    "mark": {"type": "text", "font": "Noto Sans CJK JP", "fontSize": 24, "baseline": "top", "lineBreak": "\n", "lineHeight": 32, "color": "#000"},
    "encoding": {"text": {"field": "summary"}}},
   {"width": 230, "height": 22, "data": {"values": [{"summary": "４件(21%)\n（826万円）\n高齢者率　25%"}]},
    "mark": {"type": "text", "font": "Noto Sans CJK JP", "fontSize": 24, "baseline": "top", "lineBreak": "\n", "lineHeight": 32, "color": "#000"},
    "encoding": {"text": {"field": "summary"}}},
   {"width": 434, "height": 26, "data": {"values": [{"summary": "４件(21%)\n（124万円）\n高齢者率　0%"}]},
    "mark": {"type": "text", "font": "Noto Sans CJK JP", "fontSize": 24, "baseline": "top", "lineBreak": "\n", "lineHeight": 32, "color": "#000"},
    "encoding": {"text": {"field": "summary"}}},
   {"width": 96, "height": 18, "data": {"values": [{"summary": "４件(21%)\n（386万円）\n高齢者率　75%"}]},
    "mark": {"type": "text", "font": "Noto Sans CJK JP", "fontSize": 24, "baseline": "top", "lineBreak": "\n", "lineHeight": 32, "color": "#000"},
    "encoding": {"text": {"field": "summary"}}}
  ]
 }
]
}
